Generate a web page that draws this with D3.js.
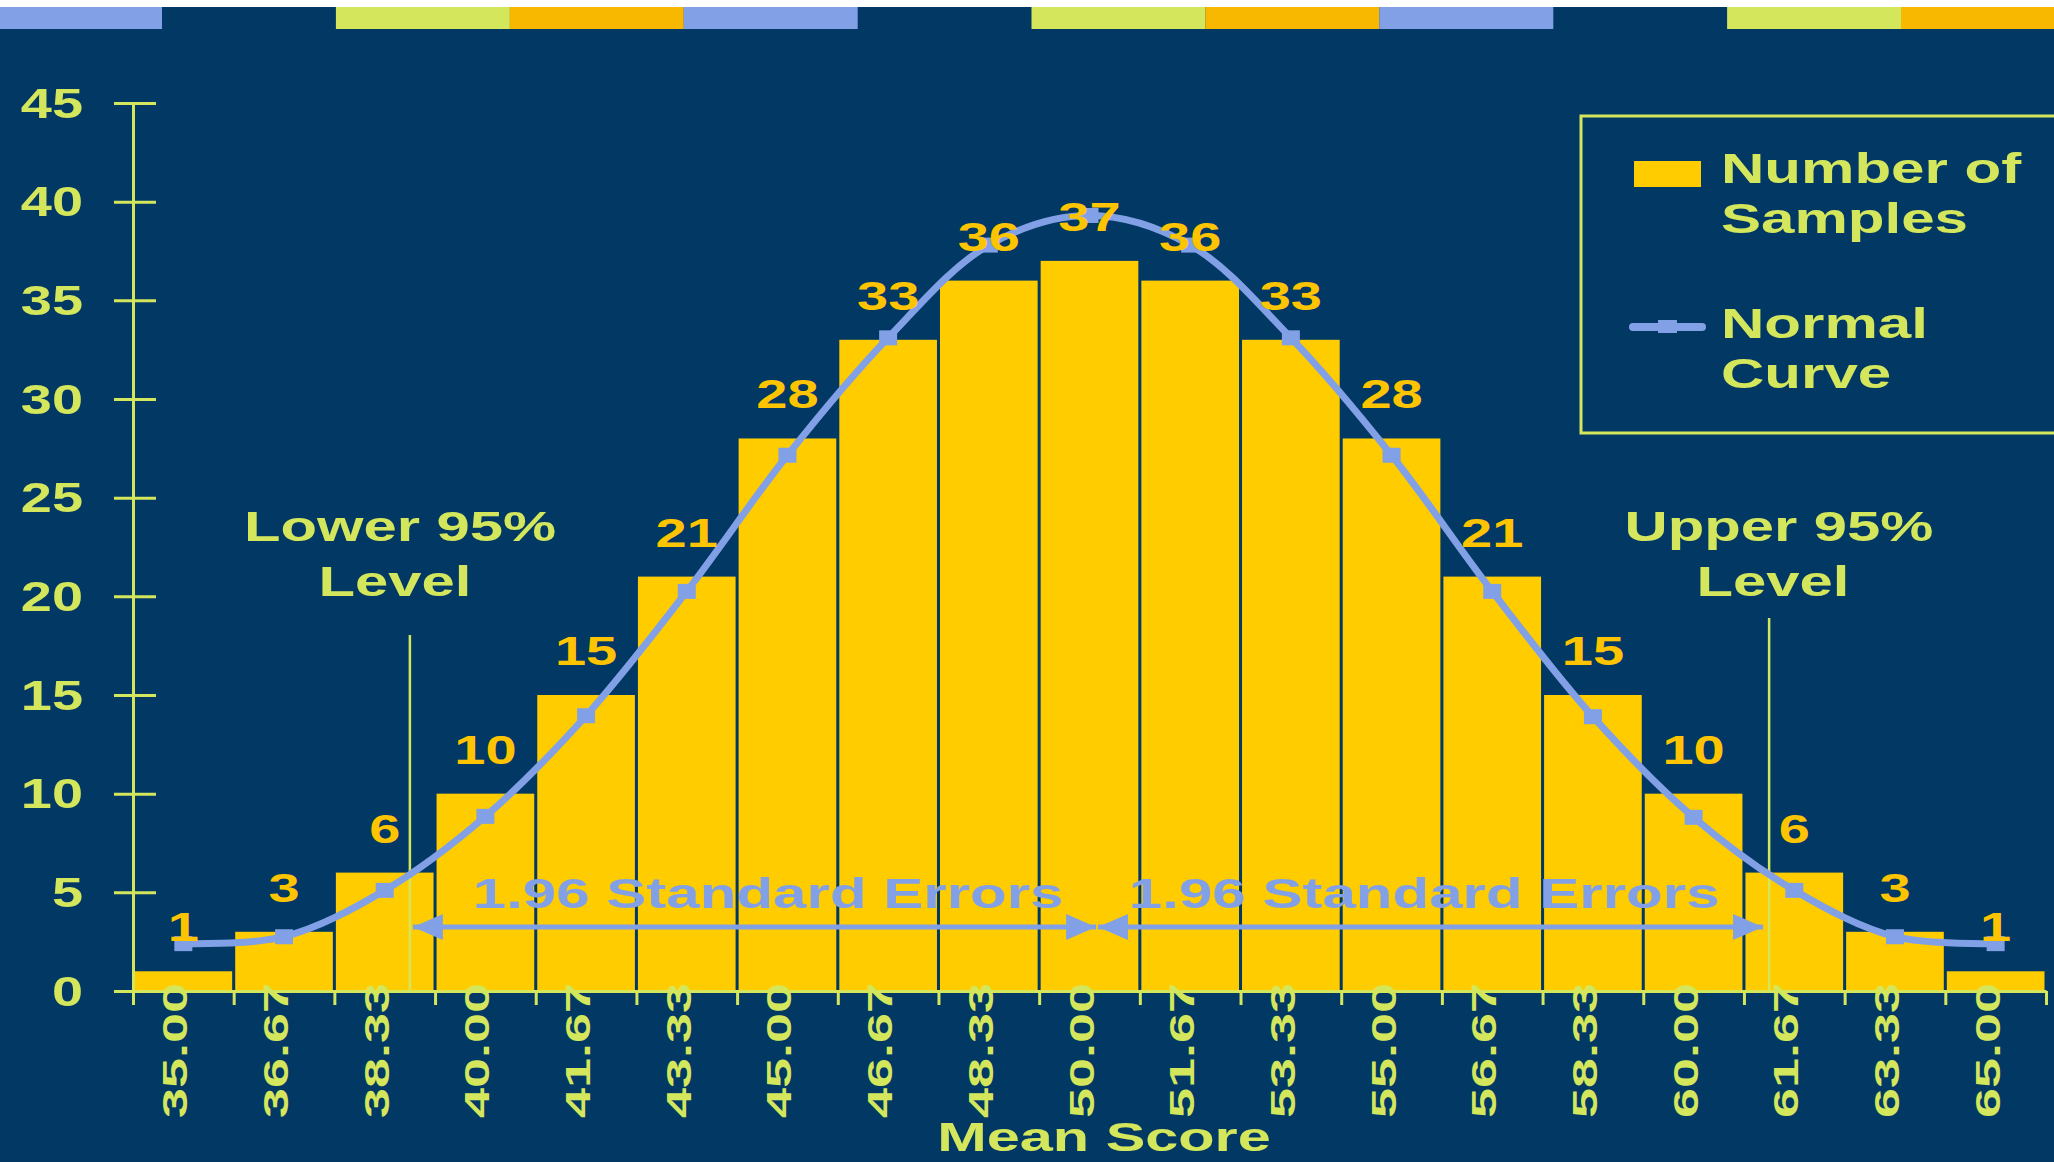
<!DOCTYPE html>
<html>
<head>
<meta charset="utf-8">
<script src="https://cdn.jsdelivr.net/npm/d3@7"></script>
<style>
  html, body { margin: 0; padding: 0; background: #023864; overflow: hidden; }
  text { font-family: "Liberation Sans", Arial, sans-serif; font-weight: bold; }
</style>
</head>
<body>
<svg id="chart"></svg>
<script>
// data
const categories = ['35.00', '36.67', '38.33', '40.00', '41.67', '43.33', '45.00', '46.67', '48.33', '50.00',
    '51.67', '53.33', '55.00', '56.67', '58.33', '60.00', '61.67', '63.33', '65.00'];
const sampleCounts = [1, 3, 6, 10, 15, 21, 28, 33, 36, 37, 36, 33, 28, 21, 15, 10, 6, 3, 1];
const normalCurve = [2.4, 2.75, 5.1, 8.85, 13.95, 20.25, 27.15, 33.1, 37.8, 39.3,
    37.8, 33.1, 27.15, 20.25, 13.9, 8.8, 5.1, 2.75, 2.4];
const yTicks = [0, 5, 10, 15, 20, 25, 30, 35, 40, 45];
const meanScore = 50;
const lower95 = 38.75;
const upper95 = 61.25;
const seLabelScores = [44.68, 55.54];
const stripeColors = ['#82A0E6', 'none', '#D4E65C', '#F8B800', '#82A0E6', 'none', '#D4E65C', '#F8B800',
    '#82A0E6', 'none', '#D4E65C', '#F8B800'];

// colors
const bgColor = '#023864';
const lime = '#D4E65C';
const barColor = '#FFCC00';
const labelColor = '#FFC400';
const curveColor = '#82A0E6';

const width = 2054;
const height = 1162;

const svg = d3.select('#chart')
    .attr('width', width)
    .attr('height', height);

svg.append('rect').attr('width', width).attr('height', height).attr('fill', bgColor);
svg.append('rect').attr('width', width).attr('height', 7).attr('fill', '#ffffff');

// decorative stripe on top
svg.append('g').selectAll('rect')
    .data(stripeColors)
    .enter()
    .append('rect')
        .attr('x', (d, i) => i === 0 ? 0 : 162 + (i - 1) * 173.9)
        .attr('y', 7)
        .attr('width', (d, i) => i === 0 ? 162 : 174)
        .attr('height', 22)
        .attr('fill', d => d);

// stretched text helper (slide text is wide)
function wideText(sel, x, y, str, size, sx, anchor, color, rotate) {
    return sel.append('text')
        .attr('transform', `translate(${x},${y})` + (rotate ? ` rotate(${rotate})` : '') + ` scale(${sx},1)`)
        .attr('text-anchor', anchor)
        .attr('font-size', size)
        .attr('fill', color)
        .text(str);
}

// scales
const x = d3.scaleBand()
    .domain(categories)
    .range([133, 2046])
    .paddingInner(0.03)
    .paddingOuter(0.015);
const xEdge = d3.scaleLinear().domain([0, categories.length]).range([133, 2046]);
const step = 5 / 3;
const xScore = d3.scaleLinear()
    .domain([35 - step / 2, 65 + step / 2])
    .range([133, 2046]);
const y = d3.scaleLinear().domain([0, 45]).range([991, 103]);
const cx = d => x(d) + x.bandwidth() / 2;

// bars
svg.append('g')
    .selectAll('rect')
    .data(sampleCounts)
    .enter()
    .append('rect')
        .attr('x', (d, i) => x(categories[i]))
        .attr('y', d => y(d))
        .attr('width', x.bandwidth())
        .attr('height', d => y(0) - y(d))
        .attr('fill', barColor);

// y axis
const yAxis = svg.append('g')
    .attr('transform', 'translate(133,0)')
    .call(d3.axisLeft(y).tickValues(yTicks).tickSizeOuter(0).tickFormat(''));
yAxis.select('.domain').attr('stroke', lime).attr('stroke-width', 3);
yAxis.selectAll('.tick line').attr('x1', -19).attr('x2', 23).attr('stroke', lime).attr('stroke-width', 3);
yAxis.selectAll('.tick').each(function(d) {
    wideText(d3.select(this), -50, 14, d, 43, 1.3, 'end', lime);
});

// x axis: boundary ticks
const xAxis = svg.append('g')
    .attr('transform', `translate(0,${y(0)})`)
    .call(d3.axisBottom(xEdge).tickValues(d3.range(categories.length + 1)).tickSize(14).tickSizeOuter(0).tickFormat(''));
xAxis.select('.domain').attr('stroke', lime).attr('stroke-width', 3);
xAxis.selectAll('.tick line').attr('stroke', lime).attr('stroke-width', 3);

// x labels
const xLabels = svg.append('g')
    .attr('transform', `translate(0,${y(0)})`)
    .call(d3.axisBottom(x).tickSize(0).tickFormat(''));
xLabels.select('.domain').remove();
xLabels.selectAll('.tick').each(function(d) {
    wideText(d3.select(this), 4, -8, d, 36, 1.5, 'end', lime, -90);
});

// x axis title
wideText(svg, 1104, 1151, 'Mean Score', 41, 1.45, 'middle', lime);

// 95% level lines
svg.append('line')
    .attr('x1', xScore(lower95)).attr('x2', xScore(lower95))
    .attr('y1', 635).attr('y2', y(0))
    .attr('stroke', lime).attr('stroke-width', 2.5);
svg.append('line')
    .attr('x1', xScore(upper95)).attr('x2', xScore(upper95))
    .attr('y1', 618).attr('y2', y(0))
    .attr('stroke', lime).attr('stroke-width', 2.5);

wideText(svg, 400, 541, 'Lower 95%', 43, 1.39, 'middle', lime);
wideText(svg, 395, 596, 'Level', 43, 1.39, 'middle', lime);
wideText(svg, 1779, 541, 'Upper 95%', 43, 1.39, 'middle', lime);
wideText(svg, 1773, 596, 'Level', 43, 1.39, 'middle', lime);

// standard error arrows
const defs = svg.append('defs');
defs.append('marker')
    .attr('id', 'arrow')
    .attr('viewBox', '0 0 30 26')
    .attr('refX', 30).attr('refY', 13)
    .attr('markerWidth', 30).attr('markerHeight', 26)
    .attr('markerUnits', 'userSpaceOnUse')
    .attr('orient', 'auto-start-reverse')
    .append('path')
        .attr('d', 'M0,0 L30,13 L0,26 Z')
        .attr('fill', curveColor);

const arrowY = 927;
const arrows = [[lower95 + 0.05, meanScore + 0.11], [meanScore + 0.14, upper95 - 0.1]];
svg.append('g')
    .selectAll('line')
    .data(arrows)
    .enter()
    .append('line')
        .attr('x1', d => xScore(d[0]))
        .attr('x2', d => xScore(d[1]))
        .attr('y1', arrowY).attr('y2', arrowY)
        .attr('stroke', curveColor)
        .attr('stroke-width', 5)
        .attr('marker-start', 'url(#arrow)')
        .attr('marker-end', 'url(#arrow)');
seLabelScores.forEach(s => {
    wideText(svg, xScore(s), 908, '1.96 Standard Errors', 42, 1.43, 'middle', curveColor);
});

// normal curve
const line = d3.line()
    .x((d, i) => cx(categories[i]))
    .y(d => y(d))
    .curve(d3.curveCatmullRom.alpha(0.5));
svg.append('path')
    .datum(normalCurve)
    .attr('d', line)
    .attr('fill', 'none')
    .attr('stroke', curveColor)
    .attr('stroke-width', 7)
    .attr('stroke-linejoin', 'round');
svg.append('g')
    .selectAll('rect')
    .data(normalCurve)
    .enter()
    .append('rect')
        .attr('x', (d, i) => cx(categories[i]) - 9)
        .attr('y', d => y(d) - 7.5)
        .attr('width', 18)
        .attr('height', 15)
        .attr('fill', curveColor);

// data labels
svg.append('g')
    .selectAll('g')
    .data(sampleCounts)
    .enter()
    .append('g')
    .each(function(d, i) {
        wideText(d3.select(this), cx(categories[i]), y(d) - 30, d, 40, 1.4, 'middle', labelColor);
    });

// legend
const legend = svg.append('g');
legend.append('rect')
    .attr('x', 1581).attr('y', 116)
    .attr('width', 520).attr('height', 317)
    .attr('fill', 'none')
    .attr('stroke', lime)
    .attr('stroke-width', 3);
legend.append('rect')
    .attr('x', 1634).attr('y', 161)
    .attr('width', 67).attr('height', 26)
    .attr('fill', barColor);
wideText(legend, 1721, 183, 'Number of', 42, 1.43, 'start', lime);
wideText(legend, 1721, 233, 'Samples', 42, 1.43, 'start', lime);
legend.append('line')
    .attr('x1', 1633).attr('x2', 1702)
    .attr('y1', 327).attr('y2', 327)
    .attr('stroke', curveColor)
    .attr('stroke-width', 8)
    .attr('stroke-linecap', 'round');
legend.append('rect')
    .attr('x', 1658).attr('y', 320)
    .attr('width', 19).attr('height', 13)
    .attr('fill', curveColor);
wideText(legend, 1721, 338, 'Normal', 42, 1.43, 'start', lime);
wideText(legend, 1721, 388, 'Curve', 42, 1.43, 'start', lime);
</script>
</body>
</html>
